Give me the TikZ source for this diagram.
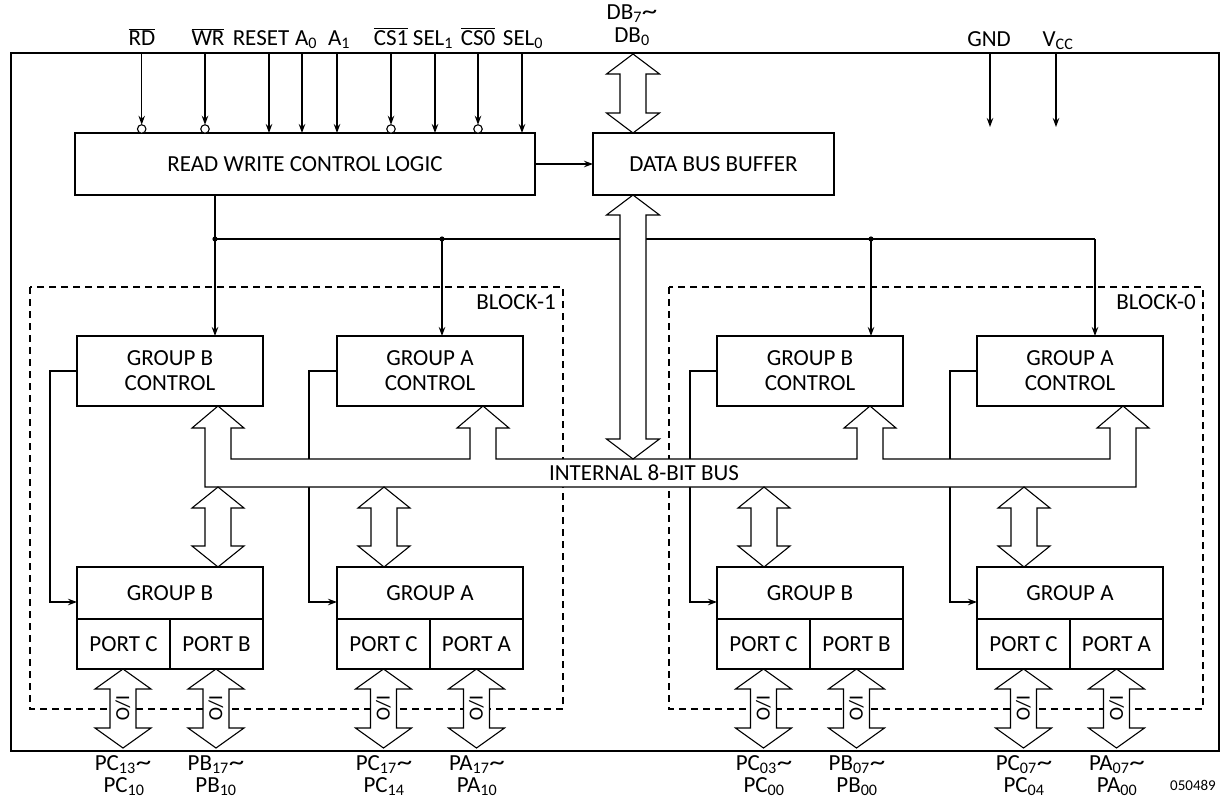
\documentclass[tikz,border=0pt]{standalone}
\usepackage{fontspec}
\setmainfont{Carlito}
\usetikzlibrary{arrows.meta}
\newcommand{\dblarr}[5]{% x, top tip y, bottom tip y, head half width, head length
  \draw[bigarrow] (#1,#2) -- (#1+#4,#2+#5) -- (#1+13,#2+#5) -- (#1+13,#3-#5) -- (#1+#4,#3-#5) -- (#1,#3)
    -- (#1-#4,#3-#5) -- (#1-13,#3-#5) -- (#1-13,#2+#5) -- (#1-#4,#2+#5) -- cycle;}
\newcommand{\mytilde}{\scalebox{1.35}[1.1]{\textasciitilde}}
\tikzset{
  box/.style={draw, line width=1.1pt, inner sep=0pt, outer sep=0pt, align=center, fill=white},
  sig/.style={line width=1.1pt, -{Stealth[length=9pt,width=6.5pt]}},
  ln/.style={line width=1.1pt},
  bubble/.style={draw, circle, minimum size=8.5pt, inner sep=0pt, outer sep=0pt, line width=1.1pt, fill=white},
  bigarrow/.style={draw, fill=white, line width=1.1pt, line join=miter},
  blk/.style={draw, line width=1.1pt, dash pattern=on 7pt off 5pt},
  lab/.style={inner sep=0pt, anchor=base},
  iolab/.style={inner sep=0pt, rotate=-90, font=\fontsize{20}{20}\selectfont},
}
\begin{document}
\begin{tikzpicture}[x=1pt,y=-1pt,font=\fontsize{23}{25}\selectfont]
\useasboundingbox (0,0) rectangle (1230,798);

% outer frame and blocks
\draw[ln] (11,53) rectangle (1219,751);
\draw[blk] (30,287) rectangle (563,709);
\draw[blk] (669,287) rectangle (1203,709);
\node[lab, anchor=base east] (blk1) at (556,309) {BLOCK-1};
\node[lab, anchor=base east] (blk0) at (1196,309) {BLOCK-0};

% main boxes
\node[box, minimum width=460pt, minimum height=62pt] (rw) at (305,164) {READ WRITE CONTROL LOGIC};
\node[box, minimum width=241pt, minimum height=62pt] (dbb) at (713.5,164) {DATA BUS BUFFER};

% control boxes
\node[box, minimum width=186pt, minimum height=70pt] (gbcL) at (170,371) {GROUP B\\CONTROL};
\node[box, minimum width=186pt, minimum height=70pt] (gacL) at (430,371) {GROUP A\\CONTROL};
\node[box, minimum width=186pt, minimum height=70pt] (gbcR) at (810,371) {GROUP B\\CONTROL};
\node[box, minimum width=186pt, minimum height=70pt] (gacR) at (1070,371) {GROUP A\\CONTROL};

% group boxes with ports
\node[box, minimum width=186pt, minimum height=52pt] (gbL) at (170,593) {GROUP B};
\node[box, minimum width=93pt, minimum height=50pt] (pcL1) at (123.5,644) {PORT C};
\node[box, minimum width=93pt, minimum height=50pt] (pbL) at (216.5,644) {PORT B};
\node[box, minimum width=186pt, minimum height=52pt] (gaL) at (430,593) {GROUP A};
\node[box, minimum width=93pt, minimum height=50pt] (pcL2) at (383.5,644) {PORT C};
\node[box, minimum width=93pt, minimum height=50pt] (paL) at (476.5,644) {PORT A};
\node[box, minimum width=186pt, minimum height=52pt] (gbR) at (810,593) {GROUP B};
\node[box, minimum width=93pt, minimum height=50pt] (pcR1) at (763.5,644) {PORT C};
\node[box, minimum width=93pt, minimum height=50pt] (pbR) at (856.5,644) {PORT B};
\node[box, minimum width=186pt, minimum height=52pt] (gaR) at (1070,593) {GROUP A};
\node[box, minimum width=93pt, minimum height=50pt] (pcR2) at (1023.5,644) {PORT C};
\node[box, minimum width=93pt, minimum height=50pt] (paR) at (1116.5,644) {PORT A};

% input pins
\coordinate (tRD) at (141.7,53);  \coordinate (tWR) at (205,53);
\coordinate (tRS) at (269,53);    \coordinate (tA0) at (302,53);
\coordinate (tA1) at (337,53);    \coordinate (tCS1) at (391,53);
\coordinate (tS1) at (435,53);    \coordinate (tCS0) at (478,53);
\coordinate (tS0) at (522,53);
\node[bubble] (bRD) at (141.7,129) {};
\node[bubble] (bWR) at (205,129) {};
\node[bubble] (bCS1) at (391,129) {};
\node[bubble] (bCS0) at (478,129) {};
\draw[sig] (tRD) -- (bRD.north);
\draw[sig] (tWR) -- (bWR.north);
\draw[sig] (tCS1) -- (bCS1.north);
\draw[sig] (tCS0) -- (bCS0.north);
\draw[sig] (tRS) -- (tRS |- rw.north);
\draw[sig] (tA0) -- (tA0 |- rw.north);
\draw[sig] (tA1) -- (tA1 |- rw.north);
\draw[sig] (tS1) -- (tS1 |- rw.north);
\draw[sig] (tS0) -- (tS0 |- rw.north);

\node[lab] (lRD) at (142,45) {$\overline{\mbox{RD}}$};
\node[lab] (lWR) at (208,45) {$\overline{\mbox{WR}}$};
\node[lab] (lRS) at (261,45) {RESET};
\node[lab] (lA0) at (306,45) {A\textsubscript{0}};
\node[lab] (lA1) at (339,45) {A\textsubscript{1}};
\node[lab] (lCS1) at (391,45) {$\overline{\mbox{CS1}}$};
\node[lab] (lS1) at (433,45) {SEL\textsubscript{1}};
\node[lab] (lCS0) at (478,45) {$\overline{\mbox{CS0}}$};
\node[lab] (lS0) at (523,45) {SEL\textsubscript{0}};

% power pins
\coordinate (tGND) at (990,53); \coordinate (eGND) at (990,127);
\coordinate (tVCC) at (1056,53); \coordinate (eVCC) at (1056,127);
\draw[sig] (tGND) -- (eGND);
\draw[sig] (tVCC) -- (eVCC);
\node[lab] (lGND) at (989,46) {GND};
\node[lab] (lVCC) at (1058,46) {V\textsubscript{CC}};

% data bus label
\node[lab] (lDB7) at (632,19) {DB\textsubscript{7}\mytilde};
\node[lab] (lDB0) at (632,42) {DB\textsubscript{0}};

% RW -> DBB
\draw[sig] (rw.east) -- (dbb.west);

% control distribution
\coordinate (j1) at (215,239);
\coordinate (j2) at (442,239);
\coordinate (j3) at (871,239);
\coordinate (j4) at (1095,239);
\draw[ln] (rw.south -| j1) -- (j1) -- (j4);
\draw[sig] (j1) -- (j1 |- gbcL.north);
\draw[sig] (j2) -- (j2 |- gacL.north);
\draw[sig] (j3) -- (j3 |- gbcR.north);
\draw[sig] (j4) -- (j4 |- gacR.north);
\fill (j1) circle (2.6pt);
\fill (j2) circle (2.6pt);
\fill (j3) circle (2.6pt);

% feedback lines control -> group
\draw[sig] (gbcL.west) -- ++(-27,0) |- ([yshift=-9pt]gbL.west);
\draw[sig] (gacL.west) -- ++(-28,0) |- ([yshift=-9pt]gaL.west);
\draw[sig] (gbcR.west) -- ++(-27,0) |- ([yshift=-9pt]gbR.west);
\draw[sig] (gacR.west) -- ++(-27,0) |- ([yshift=-9pt]gaR.west);

% internal 8-bit bus
\draw[bigarrow] (205,487) -- (205,428) -- (192,428) -- (218,406) -- (244,428) -- (231,428) -- (231,459)
  -- (470,459) -- (470,428) -- (457,428) -- (483,406) -- (509,428) -- (496,428) -- (496,459)
  -- (857,459) -- (857,428) -- (844,428) -- (870,406) -- (896,428) -- (883,428) -- (883,459)
  -- (1110,459) -- (1110,428) -- (1097,428) -- (1123,406) -- (1149,428) -- (1136,428) -- (1136,487) -- cycle;
\node (bus) at (644,473) {INTERNAL 8-BIT BUS};

% data bus arrows
\dblarr{633}{54}{133}{26.5}{20}
\dblarr{633}{195}{459}{26.5}{20}

% bus <-> group arrows
\dblarr{218}{487}{567}{26}{21}
\dblarr{384}{487}{567}{26}{21}
\dblarr{764}{487}{567}{26}{21}
\dblarr{1024}{487}{567}{26}{21}

% I/O arrows
\foreach \xx/\nm in {123/a,216/b,383.5/c,476.5/d,763.5/e,856.5/f,1023.5/g,1116.5/h}{
  \dblarr{\xx}{669}{748}{28}{20}
  \node[iolab] (io\nm) at (\xx,708) {I/O};
}

% port labels
\node[lab] (p1a) at (123,770) {PC\textsubscript{13}\mytilde};
\node[lab] (p1b) at (124,792) {PC\textsubscript{10}};
\node[lab] (p2a) at (216,770) {PB\textsubscript{17}\mytilde};
\node[lab] (p2b) at (216,792) {PB\textsubscript{10}};
\node[lab] (p3a) at (384,770) {PC\textsubscript{17}\mytilde};
\node[lab] (p3b) at (384,792) {PC\textsubscript{14}};
\node[lab] (p4a) at (477,770) {PA\textsubscript{17}\mytilde};
\node[lab] (p4b) at (477,792) {PA\textsubscript{10}};
\node[lab] (p5a) at (764,770) {PC\textsubscript{03}\mytilde};
\node[lab] (p5b) at (764,792) {PC\textsubscript{00}};
\node[lab] (p6a) at (857,770) {PB\textsubscript{07}\mytilde};
\node[lab] (p6b) at (857,792) {PB\textsubscript{00}};
\node[lab] (p7a) at (1024,770) {PC\textsubscript{07}\mytilde};
\node[lab] (p7b) at (1024,792) {PC\textsubscript{04}};
\node[lab] (p8a) at (1117,770) {PA\textsubscript{07}\mytilde};
\node[lab] (p8b) at (1117,792) {PA\textsubscript{00}};
\node[lab, font=\fontsize{15}{15}\selectfont] (code) at (1193,790) {050489};
\end{tikzpicture}
\end{document}
